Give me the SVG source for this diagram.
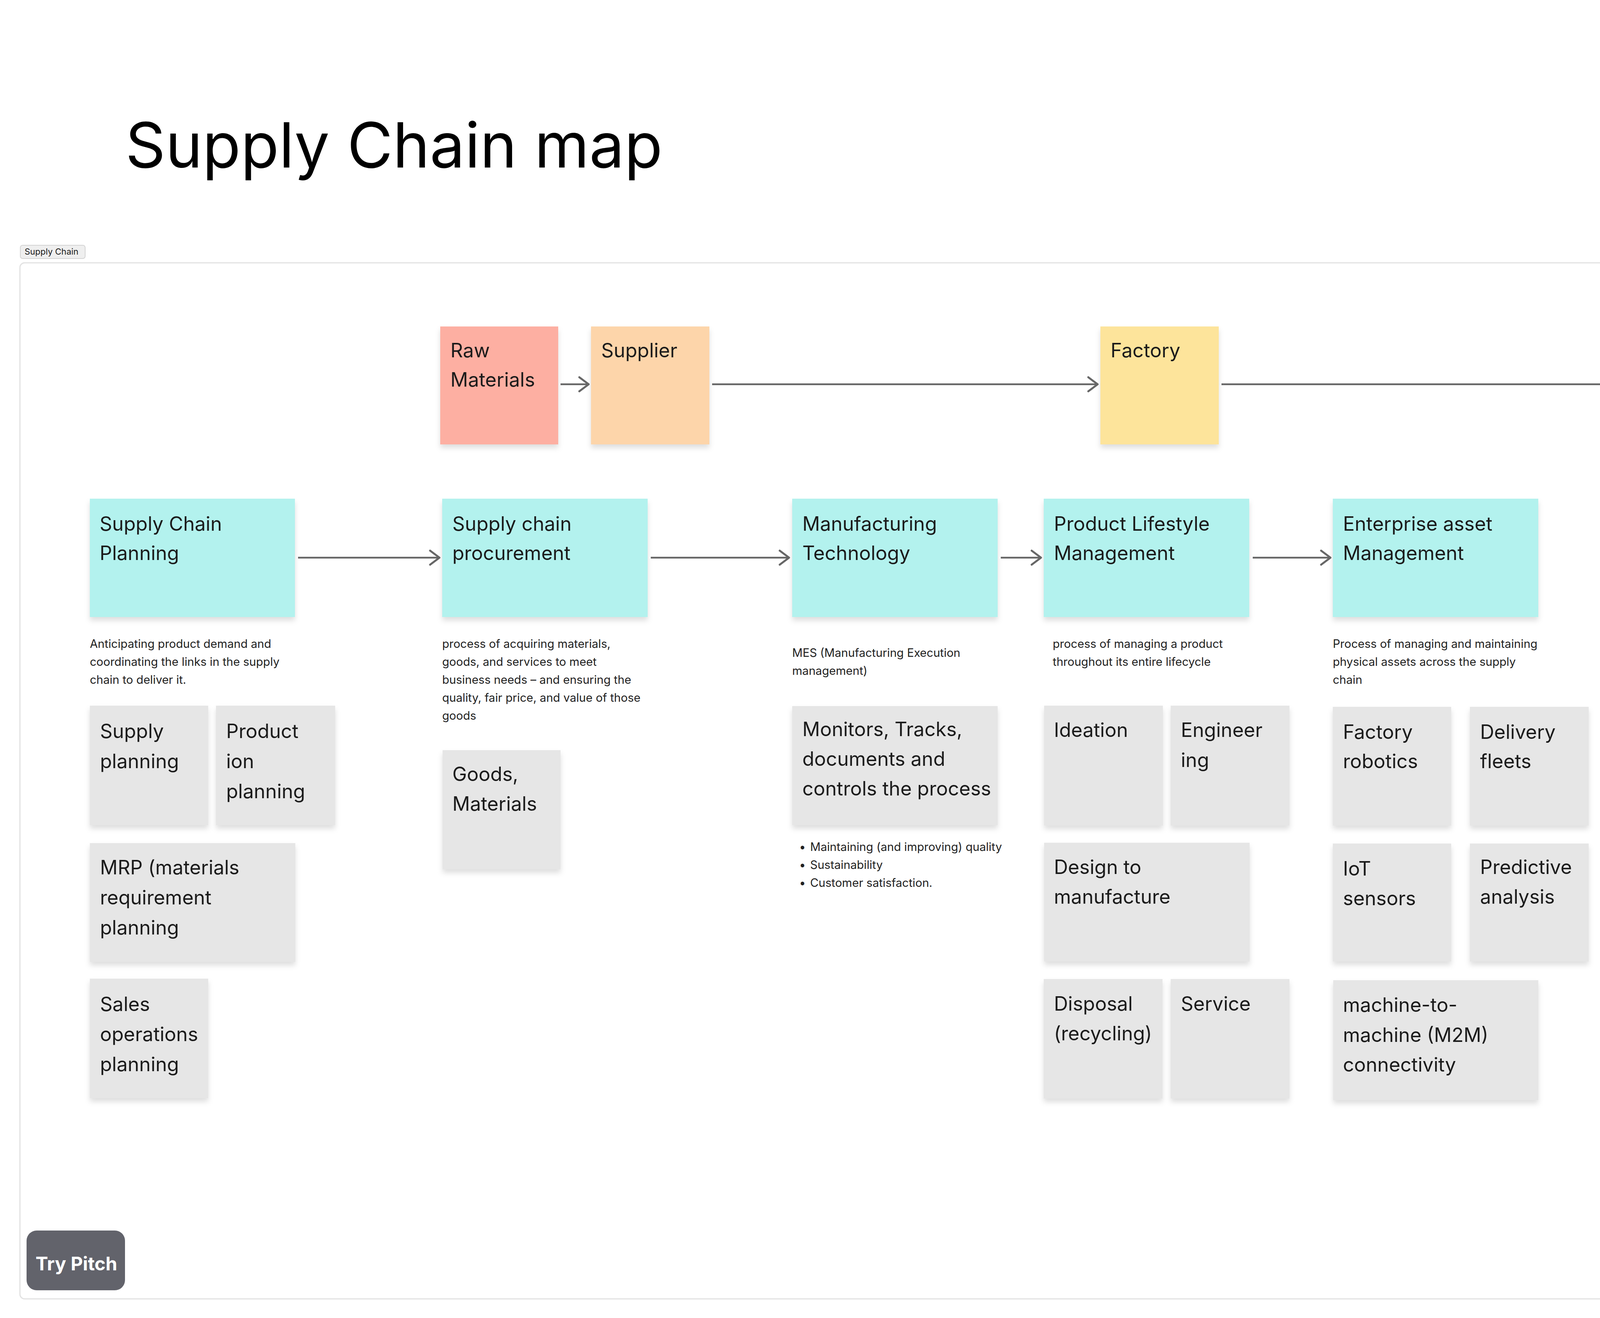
<svg xmlns="http://www.w3.org/2000/svg" width="6000" height="3375" viewBox="0 0 6000 3375">
<defs>
<filter id="sh" x="-10%" y="-10%" width="120%" height="130%">
<feDropShadow dx="0" dy="9" stdDeviation="7" flood-color="#000" flood-opacity="0.13"/>
</filter>
<marker id="arr" markerUnits="userSpaceOnUse" markerWidth="44" markerHeight="48" refX="0" refY="0" viewBox="-32 -24 36 48" orient="auto">
<path d="M-24,-18 L0,0 L-24,18" fill="none" stroke="#666" stroke-width="5" stroke-linecap="round" stroke-linejoin="round"/>
</marker>
</defs>
<style>
text{font-family:Inter,"Liberation Sans",sans-serif;fill:#1b1b1b}
.lbl{font-size:50px}
.sm{font-size:37px}
.desc{font-size:29.5px;fill:#222}
.title{font-size:160px;fill:#000}
.card{filter:url(#sh)}
.gray{fill:#e6e6e6}
.cyan{fill:#b3f2ee}
.conn{fill:none;stroke:#666;stroke-width:4.5}
</style>
<rect width="6000" height="3375" fill="#fff"/>
<text class="title" x="321" y="429">Supply Chain map</text>
<g id="frame">
<rect x="51" y="673" width="5896" height="2653" rx="12" fill="#fff" stroke="#e2e2e2" stroke-width="3"/>
<rect x="52" y="628" width="166" height="34" rx="6" fill="#efefef" stroke="#d4d4d4" stroke-width="2"/>
<text x="63" y="652" style="font-size:22px">Supply Chain</text>
</g>
<g id="n-raw-materials"><rect class="card" x="1127" y="836" width="302" height="302" fill="#fdafa2"/><text class="lbl" x="1153" y="915">Raw</text><text class="lbl" x="1153" y="990">Materials</text></g>
<g id="n-supplier"><rect class="card" x="1513" y="836" width="303" height="302" fill="#fdd5aa"/><text class="lbl" x="1539" y="915">Supplier</text></g>
<g id="n-factory"><rect class="card" x="2817" y="836" width="303" height="302" fill="#fde49b"/><text class="lbl" x="2843" y="915">Factory</text></g>
<g id="n-distribution"><rect class="card" x="4401" y="836" width="525" height="302" fill="#b3eebd"/><text class="lbl" x="4427" y="915">Distribution</text></g>
<g id="n-retail"><rect class="card" x="5281" y="836" width="303" height="302" fill="#a9d7fa"/><text class="lbl" x="5306" y="915">Retail</text></g>
<g id="n-customers"><rect class="card" x="5281" y="1277" width="525" height="302" fill="#fda8da"/><text class="lbl" x="5306" y="1356">Customers</text></g>
<g id="n-scp"><rect class="card cyan" x="230" y="1277" width="525" height="303"/><text class="lbl" x="255" y="1359">Supply Chain</text><text class="lbl" x="255" y="1434">Planning</text>
<text class="desc" x="230" y="1659">Anticipating product demand and</text><text class="desc" x="230" y="1705">coordinating the links in the supply</text><text class="desc" x="230" y="1751">chain to deliver it.</text></g>
<g id="n-procurement"><rect class="card cyan" x="1132" y="1277" width="526" height="303"/><text class="lbl" x="1158" y="1359">Supply chain</text><text class="lbl" x="1158" y="1434">procurement</text>
<text class="desc" x="1132" y="1659">process of acquiring materials,</text><text class="desc" x="1132" y="1705">goods, and services to meet</text><text class="desc" x="1132" y="1751">business needs – and ensuring the</text><text class="desc" x="1132" y="1797">quality, fair price, and value of those</text><text class="desc" x="1132" y="1843">goods</text></g>
<g id="n-mfg-tech"><rect class="card cyan" x="2028" y="1277" width="526" height="303"/><text class="lbl" x="2054" y="1359">Manufacturing</text><text class="lbl" x="2054" y="1434">Technology</text>
<text class="desc" x="2028" y="1682">MES (Manufacturing Execution</text><text class="desc" x="2028" y="1728">management)</text></g>
<g id="n-plm"><rect class="card cyan" x="2672" y="1277" width="526" height="303"/><text class="lbl" x="2698" y="1359">Product Lifestyle</text><text class="lbl" x="2698" y="1434">Management</text>
<text class="desc" x="2695" y="1659">process of managing a product</text><text class="desc" x="2695" y="1705">throughout its entire lifecycle</text></g>
<g id="n-eam"><rect class="card cyan" x="3412" y="1277" width="526" height="303"/><text class="lbl" x="3438" y="1359">Enterprise asset</text><text class="lbl" x="3438" y="1434">Management</text>
<text class="desc" x="3412" y="1659">Process of managing and maintaining</text><text class="desc" x="3412" y="1705">physical assets across the supply</text><text class="desc" x="3412" y="1751">chain</text></g>
<g id="n-logistics"><rect class="card cyan" x="4401" y="1320" width="525" height="303"/><text class="lbl" x="4427" y="1402">Logistics</text><text class="lbl" x="4427" y="1478">Management</text>
<text class="desc" x="4398" y="1710">Transportation and storage of goods</text></g>
<g id="g-supply-planning"><rect class="card gray" x="230" y="1807" width="303" height="306"/><text class="lbl" x="256" y="1890">Supply</text><text class="lbl" x="256" y="1967">planning</text></g>
<g id="g-production-planning"><rect class="card gray" x="553" y="1807" width="305" height="306"/><text class="lbl" x="579" y="1890">Product</text><text class="lbl" x="579" y="1967">ion</text><text class="lbl" x="579" y="2044">planning</text></g>
<g id="g-mrp"><rect class="card gray" x="230" y="2159" width="526" height="304"/><text class="lbl" x="256" y="2239">MRP (materials</text><text class="lbl" x="256" y="2316">requirement</text><text class="lbl" x="256" y="2393">planning</text></g>
<g id="g-sales"><rect class="card gray" x="230" y="2506" width="303" height="306"/><text class="lbl" x="256" y="2589">Sales</text><text class="lbl" x="256" y="2666">operations</text><text class="lbl" x="256" y="2743">planning</text></g>
<g id="g-goods"><rect class="card gray" x="1133" y="1921" width="302" height="305"/><text class="lbl" x="1158" y="2000">Goods,</text><text class="lbl" x="1158" y="2076">Materials</text></g>
<g id="g-monitors"><rect class="card gray" x="2028" y="1808" width="526" height="305"/><text class="lbl" x="2054" y="1885">Monitors, Tracks,</text><text class="lbl" x="2054" y="1961">documents and</text><text class="lbl" x="2054" y="2037">controls the process</text></g>
<g id="mt-bullets"><text class="desc" x="2046" y="2179">•</text><text class="desc" x="2074" y="2179">Maintaining (and improving) quality</text><text class="desc" x="2046" y="2225">•</text><text class="desc" x="2074" y="2225">Sustainability</text><text class="desc" x="2046" y="2271">•</text><text class="desc" x="2074" y="2271">Customer satisfaction.</text></g>
<g id="g-ideation"><rect class="card gray" x="2673" y="1807" width="304" height="307"/><text class="lbl" x="2698" y="1887">Ideation</text></g>
<g id="g-engineering"><rect class="card gray" x="2997" y="1807" width="304" height="307"/><text class="lbl" x="3023" y="1887">Engineer</text><text class="lbl" x="3023" y="1964">ing</text></g>
<g id="g-design"><rect class="card gray" x="2673" y="2158" width="526" height="304"/><text class="lbl" x="2698" y="2238">Design to</text><text class="lbl" x="2698" y="2314">manufacture</text></g>
<g id="g-disposal"><rect class="card gray" x="2672" y="2507" width="304" height="306"/><text class="lbl" x="2698" y="2588">Disposal</text><text class="lbl" x="2698" y="2664">(recycling)</text></g>
<g id="g-service"><rect class="card gray" x="2997" y="2507" width="304" height="306"/><text class="lbl" x="3023" y="2588">Service</text></g>
<g id="g-robotics"><rect class="card gray" x="3412" y="1810" width="303" height="304"/><text class="lbl" x="3438" y="1892">Factory</text><text class="lbl" x="3438" y="1967">robotics</text></g>
<g id="g-fleets"><rect class="card gray" x="3763" y="1810" width="304" height="304"/><text class="lbl" x="3789" y="1892">Delivery</text><text class="lbl" x="3789" y="1967">fleets</text></g>
<g id="g-iot"><rect class="card gray" x="3412" y="2160" width="303" height="302"/><text class="lbl" x="3438" y="2242">IoT</text><text class="lbl" x="3438" y="2318">sensors</text></g>
<g id="g-predictive"><rect class="card gray" x="3763" y="2160" width="304" height="302"/><text class="lbl" x="3789" y="2238">Predictive</text><text class="lbl" x="3789" y="2314">analysis</text></g>
<g id="g-m2m"><rect class="card gray" x="3413" y="2510" width="525" height="307"/><text class="lbl" x="3438" y="2591">machine-to-</text><text class="lbl" x="3438" y="2668">machine (M2M)</text><text class="lbl" x="3438" y="2744">connectivity</text></g>
<g id="g-raw-goods"><rect class="card gray" x="4385" y="1791" width="236" height="236"/><text class="sm" x="4403" y="1850">Raw goods</text></g>
<g id="g-manufacturing"><rect class="card gray" x="4596" y="1851" width="235" height="237"/><text class="sm" x="4617" y="1910">Manufactu</text><text class="sm" x="4617" y="1968">ring</text></g>
<g id="g-delivery"><rect class="card gray" x="4791" y="1932" width="238" height="236"/><text class="sm" x="4813" y="1992">Delivery</text></g>
<g id="g-product-servicing"><rect class="card gray" x="4396" y="2096" width="236" height="239"/><text class="sm" x="4417" y="2157">Product</text><text class="sm" x="4417" y="2214">servicing</text></g>
<g id="g-returns"><rect class="card gray" x="4596" y="2167" width="235" height="240"/><text class="sm" x="4617" y="2225">Returns</text></g>
<g id="g-recycling"><rect class="card gray" x="4791" y="2191" width="238" height="236"/><text class="sm" x="4813" y="2251">Recycling</text></g>
<g id="g-fleet"><rect class="card gray" x="4385" y="2458" width="303" height="308"/><text class="lbl" x="4410" y="2538">Fleet</text></g>
<g id="g-warehouse"><rect class="card gray" x="4724" y="2458" width="305" height="308"/><text class="lbl" x="4752" y="2538">Wareho</text><text class="lbl" x="4752" y="2613">use</text></g>
<g id="g-inventory"><rect class="card gray" x="4385" y="2815" width="303" height="308"/><text class="lbl" x="4410" y="2895">Inventory</text><text class="lbl" x="4410" y="2973">Control</text></g>
<g id="g-customer-service"><rect class="card gray" x="4724" y="2815" width="305" height="308"/><text class="lbl" x="4752" y="2895">Customer</text><text class="lbl" x="4752" y="2973">Service</text></g>
<g id="connectors">
<path class="conn" d="M1435,984 H1507" marker-end="url(#arr)"/>
<path class="conn" d="M1823,984 H2810" marker-end="url(#arr)"/>
<path class="conn" d="M3127,984 H4393" marker-end="url(#arr)"/>
<path class="conn" d="M4934,984 H5274" marker-end="url(#arr)"/>
<path class="conn" d="M5591,984 H5593 Q5623,984 5623,1014 V1175 Q5623,1205 5593,1205 H5268 Q5238,1205 5238,1235 V1400 Q5238,1430 5266,1430 H5274" marker-end="url(#arr)"/>
<path class="conn" d="M763,1428 H1125" marker-end="url(#arr)"/>
<path class="conn" d="M1666,1428 H2020" marker-end="url(#arr)"/>
<path class="conn" d="M2562,1428 H2665" marker-end="url(#arr)"/>
<path class="conn" d="M3207,1428 H3406" marker-end="url(#arr)"/>
<path class="conn" d="M4787,2048 H4748 Q4712,2048 4712,2084 V2167"/>
</g>
<g id="try-pitch"><rect x="68" y="3151" width="252" height="153" rx="26" fill="#62636b"/><text x="91" y="3253" style="font-size:48px;font-weight:700;fill:#fff">Try Pitch</text></g>
</svg>
